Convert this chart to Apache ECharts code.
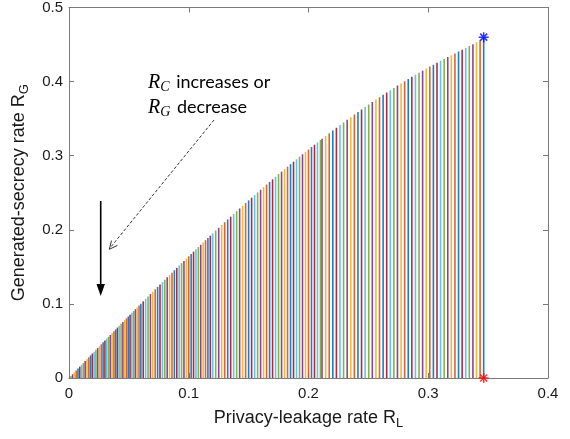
<!DOCTYPE html>
<html><head><meta charset="utf-8">
<script src="https://cdn.jsdelivr.net/npm/echarts@6/dist/echarts.min.js"></script>
<style>html,body{margin:0;padding:0;background:#fff}#c{width:570px;height:439px}</style>
</head><body><div id="c"></div>
<script>
// Privacy-leakage rate R_L of each vertical line
const leakage = [
0.0015,0.003,0.0045,0.006,0.0075,0.009,0.0105,0.012,0.0135,0.015,0.0165,0.018,0.0195,0.021,0.0225,0.024,0.0255,0.027,0.0285,0.03,
0.0315,0.033,0.0345,0.036,0.0375,0.039,0.0405,0.042,0.0435,0.045,0.0465,0.048,0.0495,0.051,0.0525,0.054,0.0555,0.057,0.0585,0.06,
0.062,0.064,0.066,0.068,0.070,0.072,0.074,0.076,0.078,0.080,0.082,0.084,0.086,0.088,0.090,0.092,0.094,0.096,0.098,0.100,
0.102,0.104,0.106,0.108,0.110,0.112,0.114,0.116,0.118,0.120,
0.1225,0.125,0.1275,0.130,0.1325,0.135,0.1375,0.140,0.1425,0.145,0.1475,0.150,0.1525,0.155,0.1575,0.160,0.1625,0.165,
0.1675,0.170,0.1725,0.175,0.1775,0.180,0.1825,0.185,0.1875,0.190,0.1925,0.195,0.1975,0.200,0.2025,0.205,0.2075,0.210,
0.2113,0.2143,0.2173,0.2203,0.2233,0.2263,0.2293,0.2323,0.2353,0.2383,0.2413,0.2443,0.2473,0.2503,0.2533,0.2563,0.2593,0.2623,
0.2653,0.2683,0.2713,0.2743,0.2773,0.2803,0.2833,0.2863,0.2893,0.2923,0.2953,0.2983,0.3013,0.3043,0.3073,0.3103,0.3133,0.3163,
0.3193,0.3223,0.3253,0.3283,0.3313,0.3343,0.3373,0.3403,0.3433,0.3463
];
// Generated-secrecy rate R_G (top of each vertical line)
const secrecy = [
0.0026,0.0051,0.0076,0.0102,0.0127,0.0153,0.0178,0.0203,0.0229,0.0254,0.0279,0.0305,0.0330,0.0355,0.0380,0.0406,0.0431,0.0456,0.0481,0.0506,
0.0531,0.0556,0.0581,0.0606,0.0631,0.0656,0.0681,0.0706,0.0731,0.0756,0.0781,0.0806,0.0830,0.0855,0.0880,0.0904,0.0929,0.0953,0.0978,0.1003,
0.1035,0.1068,0.1100,0.1133,0.1165,0.1198,0.1230,0.1262,0.1294,0.1326,0.1358,0.1390,0.1422,0.1454,0.1486,0.1517,0.1549,0.1580,0.1612,0.1643,
0.1674,0.1705,0.1736,0.1767,0.1798,0.1829,0.1860,0.1891,0.1921,0.1952,
0.1990,0.2027,0.2065,0.2103,0.2140,0.2177,0.2214,0.2251,0.2288,0.2324,0.2361,0.2397,0.2433,0.2469,0.2505,0.2540,0.2576,0.2611,
0.2646,0.2681,0.2715,0.2750,0.2784,0.2818,0.2852,0.2886,0.2919,0.2953,0.2986,0.3019,0.3052,0.3084,0.3116,0.3148,0.3180,0.3212,
0.3228,0.3266,0.3303,0.3340,0.3377,0.3413,0.3449,0.3484,0.3520,0.3555,0.3589,0.3623,0.3657,0.3691,0.3724,0.3757,0.3789,0.3821,
0.3853,0.3884,0.3915,0.3946,0.3976,0.4006,0.4035,0.4064,0.4092,0.4121,0.4148,0.4176,0.4203,0.4229,0.4255,0.4281,0.4306,0.4331,
0.4355,0.4379,0.4405,0.4430,0.4455,0.4480,0.4505,0.4530,0.4560,0.4600
];
// end-point markers
const topMarker = [0.3463, 0.46];
const bottomMarker = [0.3463, 0];
const xRange = [0, 0.4];
const yRange = [0, 0.5];
const tickStep = 0.1;

const palette = ['#0072BD','#D95319','#EDB120','#7E2F8E','#77AC30','#4DBEEE','#A2142F'];
const N = leakage.length;
const lineData = leakage.map((x, i) => [x, secrecy[i]]);

const axisGray = '#7a7a7a';
const txt = '#1a1a1a';
const baseFont = 'Liberation Sans';
const asterisk = 'path://M5,0L5,10M0,5L10,5M1.5,1.5L8.5,8.5M1.5,8.5L8.5,1.5';

function mkX(pos, main) {
  return {
    type: 'value', min: xRange[0], max: xRange[1], interval: tickStep, position: pos,
    axisLine: {show: true, onZero: false, lineStyle: {color: axisGray, width: 1}},
    axisTick: {show: true, inside: true, length: 5, lineStyle: {color: axisGray}},
    splitLine: {show: false},
    axisLabel: {show: main, color: txt, fontSize: 15, fontFamily: baseFont, margin: 8},
    name: main ? 'Privacy-leakage rate R{s|L}' : '',
    nameLocation: 'middle', nameGap: 28,
    nameTextStyle: {color: txt, fontSize: 18, fontFamily: baseFont,
      rich: {s: {fontSize: 13, fontFamily: baseFont, color: txt, padding: [11, 0, 0, 0]}}}
  };
}
function mkY(pos, main) {
  return {
    type: 'value', min: yRange[0], max: yRange[1], interval: tickStep, position: pos,
    axisLine: {show: true, onZero: false, lineStyle: {color: axisGray, width: 1}},
    axisTick: {show: true, inside: true, length: 5, lineStyle: {color: axisGray}},
    splitLine: {show: false},
    axisLabel: {show: main, color: txt, fontSize: 15, fontFamily: baseFont, margin: 6},
    name: main ? 'Generated-secrecy rate R{s|G}' : '',
    nameLocation: 'middle', nameGap: 37, nameRotate: 90,
    nameTextStyle: {color: txt, fontSize: 18, fontFamily: baseFont,
      rich: {s: {fontSize: 13, fontFamily: baseFont, color: txt, padding: [11, 0, 0, 0]}}}
  };
}

const chart = echarts.init(document.getElementById('c'), null, {renderer: 'canvas'});
chart.setOption({
  animation: false,
  backgroundColor: '#fff',
  grid: {left: 69, right: 22, top: 5, bottom: 61, containLabel: false},
  xAxis: [mkX('bottom', true), mkX('top', false)],
  yAxis: [mkY('left', true), mkY('right', false)],
  series: [
    {
      type: 'custom', coordinateSystem: 'cartesian2d', xAxisIndex: 0, yAxisIndex: 0,
      data: lineData, clip: false,
      renderItem: function (params, api) {
        const x = api.value(0), y = api.value(1);
        const p0 = api.coord([x, 0]);
        const p1 = api.coord([x, y]);
        return {
          type: 'line',
          shape: {x1: p0[0], y1: p0[1], x2: p1[0], y2: p1[1]},
          style: {stroke: palette[(N - 1 - params.dataIndex) % 7], lineWidth: 1.6, opacity: 0.9}
        };
      }
    },
    {
      type: 'scatter', xAxisIndex: 0, yAxisIndex: 0, clip: false, z: 5,
      data: [topMarker], symbol: asterisk, symbolSize: 10,
      itemStyle: {color: 'transparent', borderColor: '#0000ff', borderWidth: 1.5}
    },
    {
      type: 'scatter', xAxisIndex: 0, yAxisIndex: 0, clip: false, z: 5,
      data: [bottomMarker], symbol: asterisk, symbolSize: 10,
      itemStyle: {color: 'transparent', borderColor: '#ff0000', borderWidth: 1.5}
    }
  ],
  graphic: [
    {
      type: 'text', left: 148, top: 70, z: 10,
      style: {
        text: '{r|R}{s|C} increases or\n{r|R}{s|G} decrease',
        fill: '#000', font: '18px Lato', lineHeight: 25,
        rich: {
          r: {fontFamily: 'Liberation Serif', fontStyle: 'italic', fontSize: 20, fill: '#000', lineHeight: 25},
          s: {fontFamily: 'Liberation Serif', fontStyle: 'italic', fontSize: 14, fill: '#000', padding: [9, 2, 0, 0], lineHeight: 25}
        }
      }
    },
    {
      type: 'line', z: 10,
      shape: {x1: 214, y1: 120, x2: 110, y2: 248},
      style: {stroke: '#333', lineWidth: 1, lineDash: [3, 2]}
    },
    {
      type: 'polyline', z: 10,
      shape: {points: [[117.4, 245.4], [109.3, 249.3], [111.5, 240.6]]},
      style: {stroke: '#333', lineWidth: 1, fill: null}
    },
    {
      type: 'line', z: 10,
      shape: {x1: 100.7, y1: 201, x2: 100.7, y2: 288},
      style: {stroke: '#000', lineWidth: 1.6}
    },
    {
      type: 'polygon', z: 10,
      shape: {points: [[96.5, 284], [104.9, 284], [100.7, 296]]},
      style: {fill: '#000'}
    }
  ]
});
</script>
</body></html>
